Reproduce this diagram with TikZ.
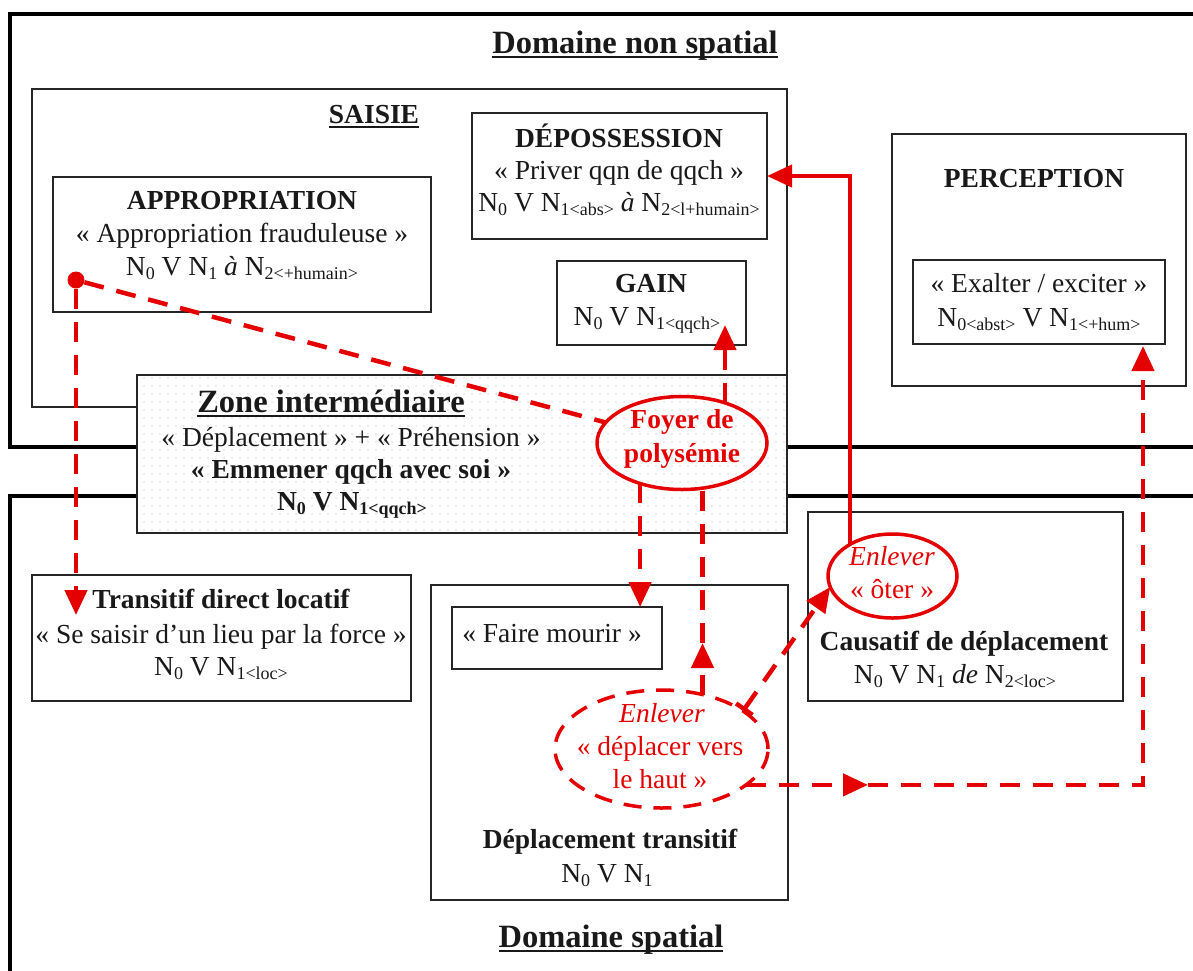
\documentclass[tikz,border=0pt]{standalone}
\usepackage{fontspec}
\setmainfont{Liberation Serif}
\usetikzlibrary{arrows.meta,shapes.geometric,patterns.meta}
\definecolor{rd}{RGB}{228,0,0}
\newcommand\myul[1]{\setbox0\hbox{#1}\rlap{\rule[-5pt]{\wd0}{2.2pt}}\box0}
\newcommand\sbd[1]{\raisebox{-4.5pt}{\fontsize{18}{18}\selectfont #1}}
\begin{document}
\begin{tikzpicture}[x=1pt,y=-1pt,
  box/.style={draw=black!85, line width=1.5pt, inner sep=0pt, outer sep=0pt, rectangle, anchor=north west},
  frame/.style={draw=black, line width=3.5pt, inner sep=0pt, outer sep=0pt, rectangle, anchor=north west},
  txt/.style={anchor=base, inner sep=0pt, outer sep=0pt, font=\fontsize{27.5}{33}\selectfont, text=black!90},
  bt/.style={txt, font=\fontsize{27.5}{33}\selectfont\bfseries},
  ttl/.style={txt, font=\fontsize{32.5}{38}\selectfont\bfseries},
  rdash/.style={draw=rd, line width=4.5pt, dash pattern=on 20pt off 13pt},
  rsolid/.style={draw=rd, line width=4pt},
  tip/.style={-{Triangle[length=25pt,width=22pt]}},
  ell/.style={ellipse, draw=rd, line width=3.5pt, inner sep=0pt, outer sep=0pt}
]
\clip (0,0) rectangle (1193,970);
\fill[white] (0,0) rectangle (1193,970);
% frames
\node[frame, minimum width=1230pt, minimum height=433pt] (dns) at (10,14) {};
\node[frame, minimum width=1230pt, minimum height=504pt] (dsp) at (10,496) {};
% boxes
\node[box, minimum width=755pt, minimum height=318pt] (saisie) at (32,89) {};
\node[box, minimum width=378pt, minimum height=135pt] (appr) at (53,177) {};
\node[box, minimum width=295pt, minimum height=126pt] (depo) at (472,113) {};
\node[box, minimum width=189pt, minimum height=84pt] (gain) at (557,261) {};
\node[box, minimum width=294pt, minimum height=252pt] (perc) at (892,134) {};
\node[box, minimum width=252pt, minimum height=84pt] (exal) at (913,260) {};
\node[box, minimum width=379pt, minimum height=126pt] (trans) at (32,575) {};
\node[box, minimum width=357pt, minimum height=315pt] (dtrans) at (431,585) {};
\node[box, minimum width=210pt, minimum height=62pt] (fm) at (452,607) {};
\node[box, minimum width=315pt, minimum height=189pt] (caus) at (808,512) {};
\node[box, fill=white, minimum width=650pt, minimum height=158pt,
  postaction={pattern={Dots[distance=8pt,radius=0.7pt]}, pattern color=black!30}] (zone) at (137,375) {};
% ellipses
\node[ell, minimum width=170pt, minimum height=93pt] (foyer) at (682,443) {};
\node[ell, minimum width=129pt, minimum height=84pt] (ot) at (892.5,576) {};
\node[ell, dash pattern=on 18pt off 12pt, minimum width=213pt, minimum height=118pt] (dep) at (661.5,749) {};
% titles
\node[ttl] (tdns) at (635,53) {\myul{Domaine non spatial}};
\node[bt] (tsai) at (374,123) {\myul{SAISIE}};
\node[ttl] (tzone) at (331,412) {\myul{Zone intermédiaire}};
\node[ttl] (tds) at (611,947) {\myul{Domaine spatial}};
% appropriation
\node[bt] (a1) at (242,209) {APPROPRIATION};
\node[txt] (a2) at (242,242) {« Appropriation frauduleuse »};
\node[txt] (a3) at (242,275) {N\sbd{0} V N\sbd{1} \textit{à} N\sbd{2<+humain>}};
% depossession
\node[bt] (d1) at (619,147) {DÉPOSSESSION};
\node[txt] (d2) at (619,179) {« Priver qqn de qqch »};
\node[txt] (d3) at (619,211) {N\sbd{0} V N\sbd{1<abs>} \textit{à} N\sbd{2<l+humain>}};
% gain
\node[bt] (g1) at (651,292) {GAIN};
\node[txt] (g2) at (647,325) {N\sbd{0} V N\sbd{1<qqch>}};
% perception
\node[bt] (p1) at (1034,187) {PERCEPTION};
\node[txt] (p2) at (1039,292) {« Exalter / exciter »};
\node[txt] (p3) at (1039,326) {N\sbd{0<abst>} V N\sbd{1<+hum>}};
% zone
\node[txt] (z2) at (351,446) {« Déplacement » + « Préhension »};
\node[bt] (z3) at (351,478) {« Emmener qqch avec soi »};
\node[bt] (z4) at (352,510) {N\sbd{0} V N\sbd{1<qqch>}};
% foyer
\node[bt, text=rd] (f1) at (682,428) {Foyer de};
\node[bt, text=rd] (f2) at (682,462) {polysémie};
% transitif
\node[bt] (t1) at (221,608) {Transitif direct locatif};
\node[txt] (t2) at (221,643) {« Se saisir d’un lieu par la force »};
\node[txt] (t3) at (221,675) {N\sbd{0} V N\sbd{1<loc>}};
% faire mourir
\node[txt] (fm1) at (552,642) {« Faire mourir »};
% enlever oter
\node[txt, text=rd] (o1) at (892,565) {\textit{Enlever}};
\node[txt, text=rd] (o2) at (892,598) {« ôter »};
% enlever deplacer
\node[txt, text=rd] (e1) at (662,722) {\textit{Enlever}};
\node[txt, text=rd] (e2) at (660,755) {« déplacer vers};
\node[txt, text=rd] (e3) at (660,788) {le haut »};
% causatif
\node[bt] (c1) at (964,650) {Causatif de déplacement};
\node[txt] (c2) at (955,683) {N\sbd{0} V N\sbd{1} \textit{de} N\sbd{2<loc>}};
% deplacement transitif
\node[bt] (dt1) at (610,848) {Déplacement transitif};
\node[txt] (dt2) at (607,882) {N\sbd{0} V N\sbd{1}};
% connectors
\node[circle, fill=rd, minimum size=17pt, inner sep=0pt] (dot) at (76,280) {};
\coordinate (ttip) at (76,615);
\coordinate (gtip) at (725,325);
\coordinate (mida) at (703,643);
\coordinate (midb) at (868,785);
\coordinate (etip) at (1143,346);
\draw[rdash, tip] (dot) -- (ttip);
\draw[rdash] (dot) -- (foyer);
\draw[rdash, tip] (foyer.43) -- (foyer.43 |- gtip);
\draw[rdash, tip] (foyer.224) -- (foyer.224 |- fm.north);
\draw[rdash, tip] (dep.53) -- (dep.53 |- mida);
\draw[rdash] (dep.53 |- mida) -- (dep.53 |- foyer.295);
\draw[rdash, {Bar[width=20pt]}-{Triangle[length=25pt,width=22pt]}] (dep.25) -- (ot.190);
\draw[rdash, tip] (dep.337) -- (dep.337 -| midb);
\draw[rdash, tip] (dep.337 -| midb) -| (etip);
\draw[rsolid, tip] (ot.143) |- (depo.east);
\end{tikzpicture}
\end{document}
